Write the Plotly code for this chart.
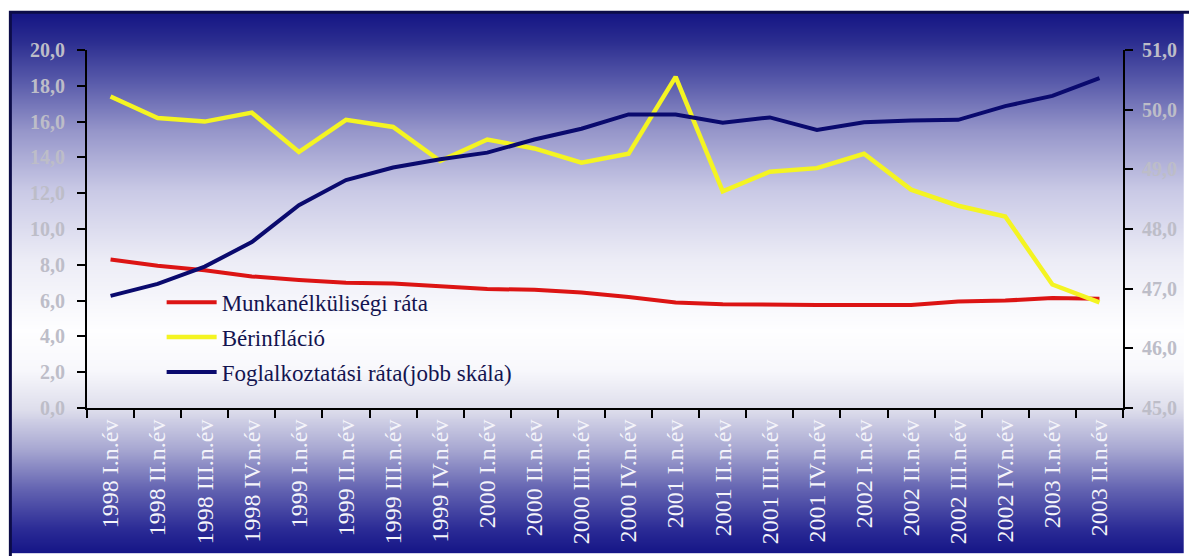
import base64
import struct
import zlib

import plotly.graph_objects as go

# Negyedéves adatok, 1998 I. – 2003 II. negyedév
negyedevek = [
    "1998 I.n.év", "1998 II.n.év", "1998 III.n.év", "1998 IV.n.év",
    "1999 I.n.év", "1999 II.n.év", "1999 III.n.év", "1999 IV.n.év",
    "2000 I.n.év", "2000 II.n.év", "2000 III.n.év", "2000 IV.n.év",
    "2001 I.n.év", "2001 II.n.év", "2001 III.n.év", "2001 IV.n.év",
    "2002 I.n.év", "2002 II.n.év", "2002 III.n.év", "2002 IV.n.év",
    "2003 I.n.év", "2003 II.n.év",
]
munkanelkuliseg = [8.3, 7.95, 7.7, 7.35, 7.15, 7.0, 6.95, 6.8, 6.65, 6.6, 6.45,
                   6.2, 5.9, 5.8, 5.75, 5.75, 5.75, 5.75, 5.95, 6.0, 6.15, 6.1]
berinflacio = [17.4, 16.2, 16.0, 16.5, 14.3, 16.1, 15.7, 13.8, 15.0, 14.5, 13.7,
               14.2, 18.5, 12.1, 13.2, 13.4, 14.2, 12.2, 11.3, 10.7, 6.9, 5.9]
foglalkoztatas = [46.88, 47.08, 47.37, 47.78, 48.4, 48.82, 49.03, 49.17, 49.28,
                  49.5, 49.68, 49.92, 49.92, 49.78, 49.87, 49.66, 49.79, 49.82,
                  49.83, 50.06, 50.23, 50.53]

bal_tengely = (0, 20, 2)
jobb_tengely = (45, 51, 1)

W, H = 1189, 556
M_L, M_R, M_T, M_B = 87, 61, 50, 146
PLOT_W = W - M_L - M_R
PLOT_H = H - M_T - M_B

# Háttér színátmenet: (pixel sor, szín)
atmenet = [
    (0, (20, 20, 132)), (30, (44, 46, 144)), (70, (88, 90, 170)),
    (120, (150, 150, 202)), (180, (202, 202, 230)), (250, (236, 236, 246)),
    (320, (254, 254, 255)), (360, (248, 248, 252)), (400, (222, 222, 236)),
    (440, (168, 168, 210)), (480, (100, 100, 178)), (520, (44, 44, 150)),
    (545, (20, 20, 134)),
]


def gradient_png(stops, height):
    rows = []
    for y in range(height):
        for (y0, c0), (y1, c1) in zip(stops, stops[1:]):
            if y0 <= y <= y1:
                t = (y - y0) / (y1 - y0)
                rows.append(tuple(round(a + (b - a) * t) for a, b in zip(c0, c1)))
                break
        else:
            rows.append(stops[-1][1])
    raw = b"".join(b"\x00" + bytes(rgb) for rgb in rows)

    def chunk(tag, data):
        return (struct.pack(">I", len(data)) + tag + data
                + struct.pack(">I", zlib.crc32(tag + data) & 0xFFFFFFFF))

    png = (b"\x89PNG\r\n\x1a\n"
           + chunk(b"IHDR", struct.pack(">IIBBBBB", 1, height, 8, 2, 0, 0, 0))
           + chunk(b"IDAT", zlib.compress(raw))
           + chunk(b"IEND", b""))
    return "data:image/png;base64," + base64.b64encode(png).decode()


def px_x(px):
    return (px - M_L) / PLOT_W


def px_y(py):
    return (H - M_B - py) / PLOT_H


FRAME_X, FRAME_Y = 9, 11

fig = go.Figure()
fig.add_trace(go.Scatter(
    x=negyedevek, y=munkanelkuliseg, name="Munkanélküliségi ráta",
    mode="lines", line=dict(color="#dc1414", width=4), legendgroup="a",
))
fig.add_trace(go.Scatter(
    x=negyedevek, y=berinflacio, name="Bérinfláció",
    mode="lines", line=dict(color="#f4f422", width=4.5), legendgroup="b",
))
fig.add_trace(go.Scatter(
    x=negyedevek, y=foglalkoztatas, name="Foglalkoztatási ráta(jobb skála)",
    mode="lines", line=dict(color="#0a0a6e", width=4), legendgroup="c",
    yaxis="y2",
))

tick_font = dict(family="Liberation Serif", size=20, color="#bdbdc8", weight="bold")
n = len(negyedevek)
hatarok = [i - 0.5 for i in range(n + 1)]

fig.update_layout(
    width=W, height=H,
    margin=dict(l=M_L, r=M_R, t=M_T, b=M_B, pad=0),
    paper_bgcolor="white",
    plot_bgcolor="rgba(0,0,0,0)",
    separators=",.",
    showlegend=True,
    legend=dict(
        x=px_x(162), y=px_y(282), xanchor="left", yanchor="top",
        bgcolor="rgba(0,0,0,0)", borderwidth=0,
        font=dict(family="Liberation Serif", size=23, color="#141450"),
        tracegroupgap=2, itemwidth=50,
    ),
    xaxis=dict(
        type="category", categoryarray=negyedevek, categoryorder="array",
        range=[-0.5, n - 0.5],
        showline=True, linecolor="black", linewidth=2,
        ticks="outside", ticklen=8, tickwidth=2, tickcolor="black",
        tickson="boundaries", tickangle=-90,
        tickfont=dict(family="Liberation Serif", size=24, color="#f4f4fa"),
        showgrid=False, zeroline=False,
    ),
    xaxis2=dict(
        overlaying="x", anchor="y", side="bottom",
        range=[-0.5, n - 0.5], tickvals=hatarok,
        ticks="inside", ticklen=8, tickwidth=2, tickcolor="black",
        showticklabels=False, showgrid=False, zeroline=False, showline=False,
    ),
    yaxis=dict(
        range=[bal_tengely[0], bal_tengely[1]], dtick=bal_tengely[2], tick0=0,
        tickformat=".1f",
        showline=True, linecolor="black", linewidth=2,
        ticks="outside", ticklen=8, tickwidth=2, tickcolor="black",
        tickfont=tick_font, ticklabelstandoff=8,
        showgrid=False, zeroline=False,
    ),
    yaxis2=dict(
        range=[jobb_tengely[0], jobb_tengely[1]], dtick=jobb_tengely[2], tick0=45,
        tickformat=".1f", overlaying="y", side="right", anchor="x",
        showline=True, linecolor="black", linewidth=2,
        ticks="outside", ticklen=8, tickwidth=2, tickcolor="black",
        tickfont=tick_font, ticklabelstandoff=5,
        showgrid=False, zeroline=False,
    ),
    yaxis3=dict(
        range=[bal_tengely[0], bal_tengely[1]], dtick=bal_tengely[2], tick0=0,
        overlaying="y", side="left", anchor="x",
        ticks="inside", ticklen=8, tickwidth=2, tickcolor="black",
        showticklabels=False, showgrid=False, zeroline=False, showline=False,
    ),
    yaxis4=dict(
        range=[jobb_tengely[0], jobb_tengely[1]], dtick=jobb_tengely[2], tick0=45,
        overlaying="y", side="right", anchor="x",
        ticks="inside", ticklen=8, tickwidth=2, tickcolor="black",
        showticklabels=False, showgrid=False, zeroline=False, showline=False,
    ),
    images=[dict(
        source=gradient_png(atmenet, H - FRAME_Y),
        xref="paper", yref="paper",
        x=px_x(FRAME_X), y=px_y(FRAME_Y),
        sizex=(W - FRAME_X) / PLOT_W, sizey=(H - FRAME_Y) / PLOT_H,
        xanchor="left", yanchor="top", sizing="stretch", layer="below",
    )],
    shapes=[dict(
        type="rect", xref="paper", yref="paper", layer="below",
        x0=px_x(FRAME_X + 1), x1=px_x(W + 10),
        y0=px_y(FRAME_Y + 1), y1=px_y(H + 10),
        line=dict(color="#0c0c48", width=3), fillcolor="rgba(0,0,0,0)",
    )],
)

fig.write_html("out.html")
